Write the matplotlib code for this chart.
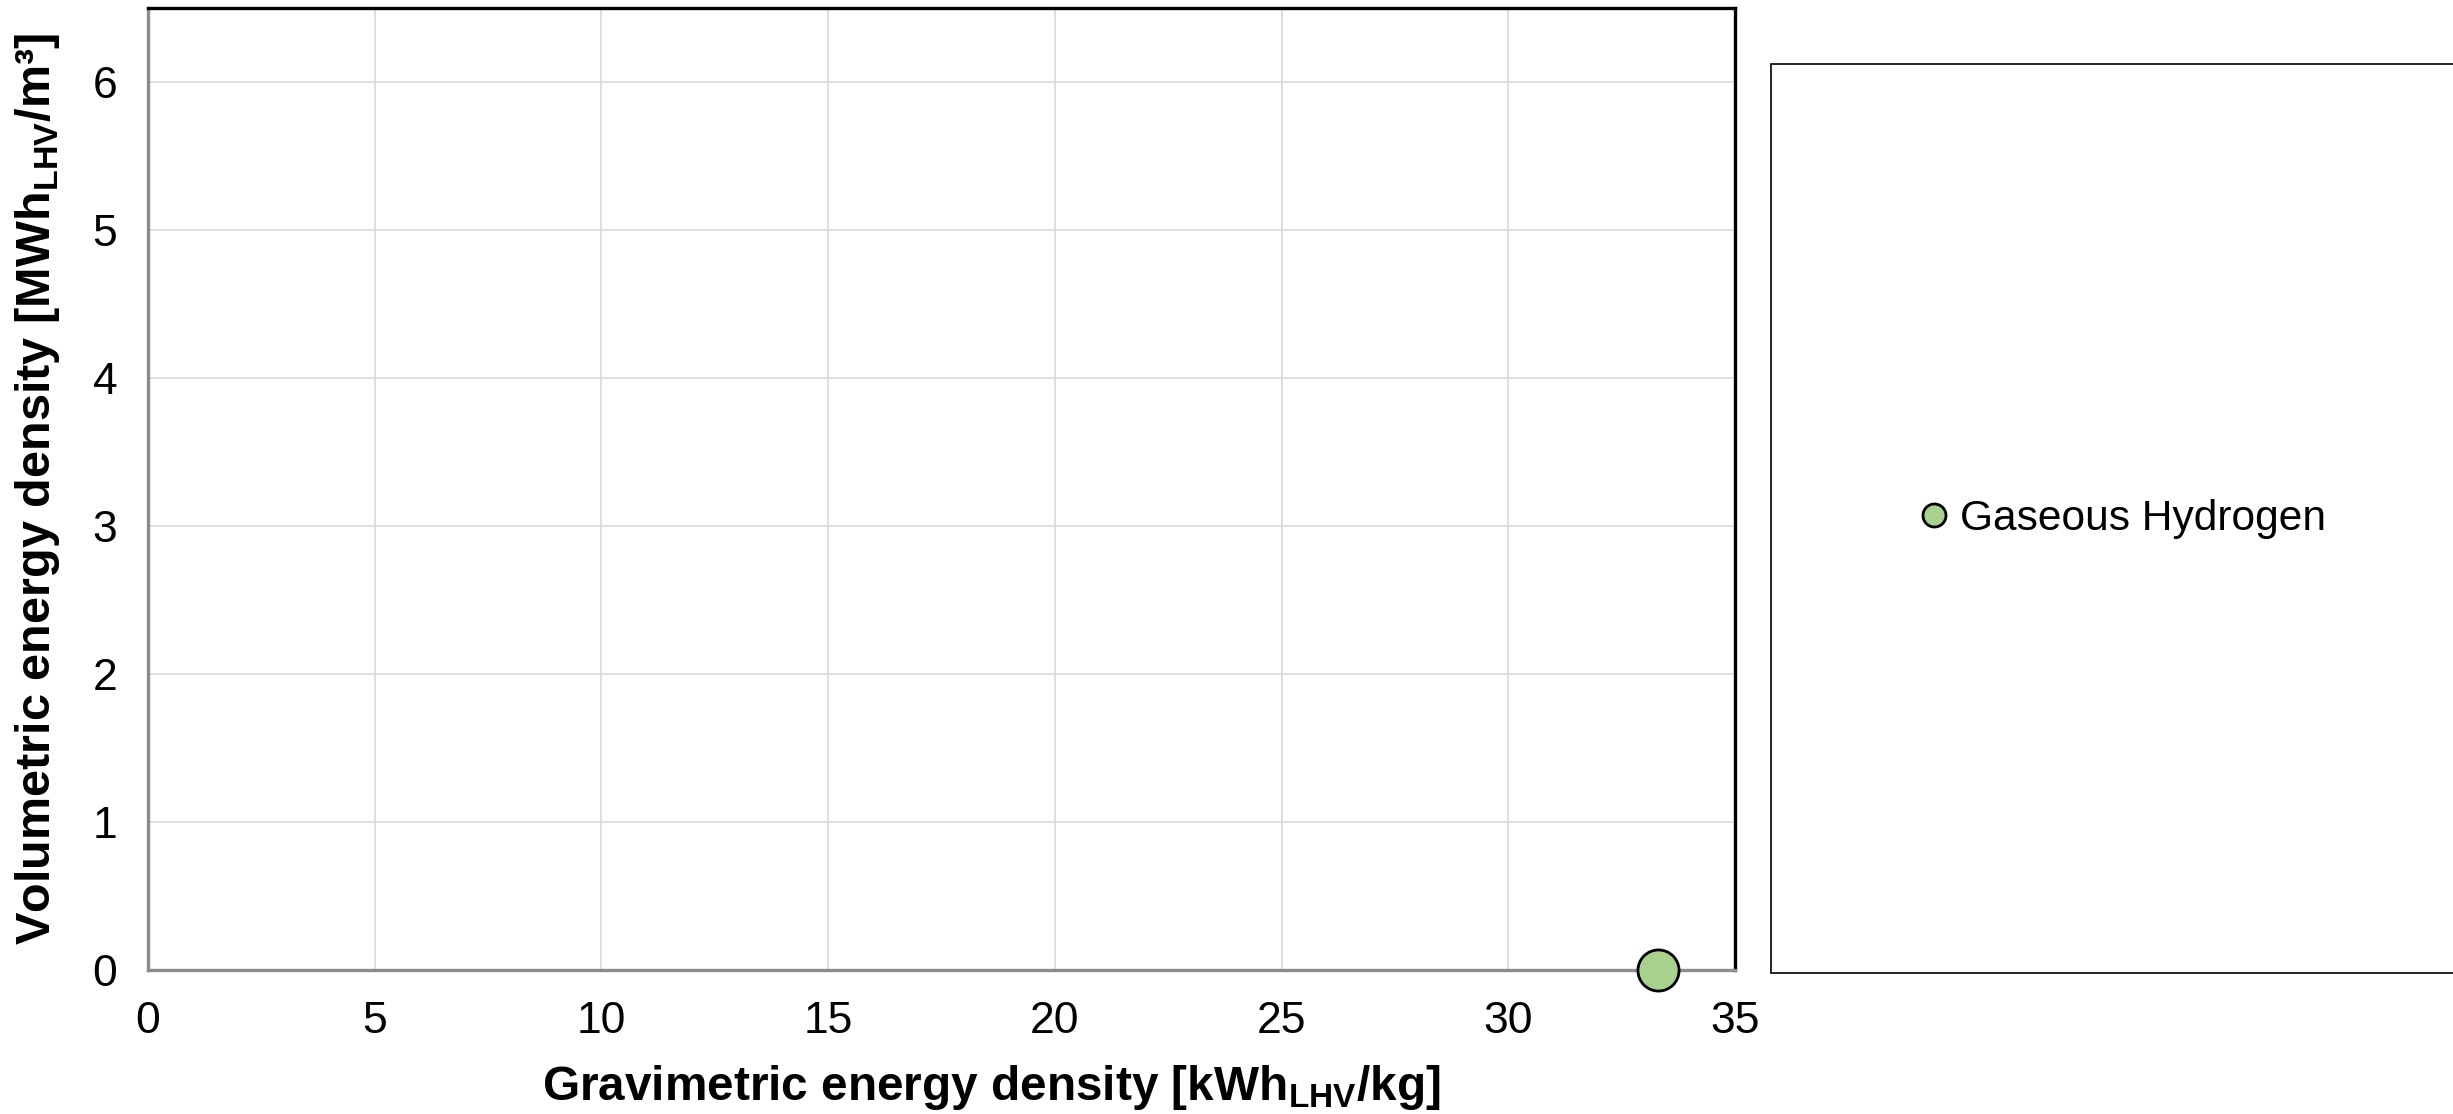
import matplotlib
matplotlib.use("Agg")
import matplotlib.pyplot as plt
from matplotlib.patches import Rectangle

# -------------------------------------------------
# DATA
# -------------------------------------------------
carriers = ["Gaseous Hydrogen"]
gravimetric = [33.3]   # kWh_LHV / kg
volumetric = [0.0]     # MWh_LHV / m3
colors = ["#a9d18e"]

x_ticks = [0, 5, 10, 15, 20, 25, 30, 35]
y_ticks = [0, 1, 2, 3, 4, 5, 6]

plt.rcParams["font.family"] = ["Liberation Sans", "DejaVu Sans"]
plt.rcParams["mathtext.fontset"] = "custom"
plt.rcParams["mathtext.rm"] = "Liberation Sans"
plt.rcParams["mathtext.bf"] = "Liberation Sans:bold"

fig = plt.figure(figsize=(12.265, 5.57), dpi=200)
ax = fig.add_axes([0.0603, 0.1293, 0.6470, 0.8635])

# -------------------------------------------------
# POINTS
# -------------------------------------------------
for name, gx, vy, c in zip(carriers, gravimetric, volumetric, colors):
    ax.plot(gx, vy, "o", markersize=14.8, markerfacecolor=c,
            markeredgecolor="black", markeredgewidth=1.0,
            clip_on=False, zorder=5, label=name)

# -------------------------------------------------
# FORMATTING
# -------------------------------------------------
ax.set_xlim(0, 35)
ax.set_ylim(0, 6.5)
ax.set_xticks(x_ticks)
ax.set_yticks(y_ticks)
ax.tick_params(length=0, labelsize=16, pad=11)
ax.grid(True, color="#d9d9d9", linewidth=0.6)
ax.set_axisbelow(True)

for side in ["top", "right"]:
    ax.spines[side].set_color("black")
    ax.spines[side].set_linewidth(1.2)
for side in ["left", "bottom"]:
    ax.spines[side].set_color("#8c8c8c")
    ax.spines[side].set_linewidth(1.2)

ax.set_xlabel(r"Gravimetric energy density [kWh$_\mathbf{LHV}$/kg]",
              fontsize=17.2, weight="bold")
ax.xaxis.set_label_coords(0.5316, -0.097)
ax.set_ylabel(r"Volumetric energy density [MWh$_\mathbf{LHV}$/m³]",
              fontsize=17.5, weight="bold", labelpad=11)

# legend box on the right (runs off the figure edge)
box = Rectangle((0.722, 0.1266), 0.30, 0.816, transform=fig.transFigure,
                facecolor="white", edgecolor="black", linewidth=0.6,
                clip_on=False)
fig.patches.append(box)

fig.legend(loc="center", bbox_to_anchor=(0.864, 0.534), frameon=False,
           fontsize=15.3, markerscale=0.56, handletextpad=0.1,
           handlelength=1.0)

fig.savefig("out.png", dpi=200)
